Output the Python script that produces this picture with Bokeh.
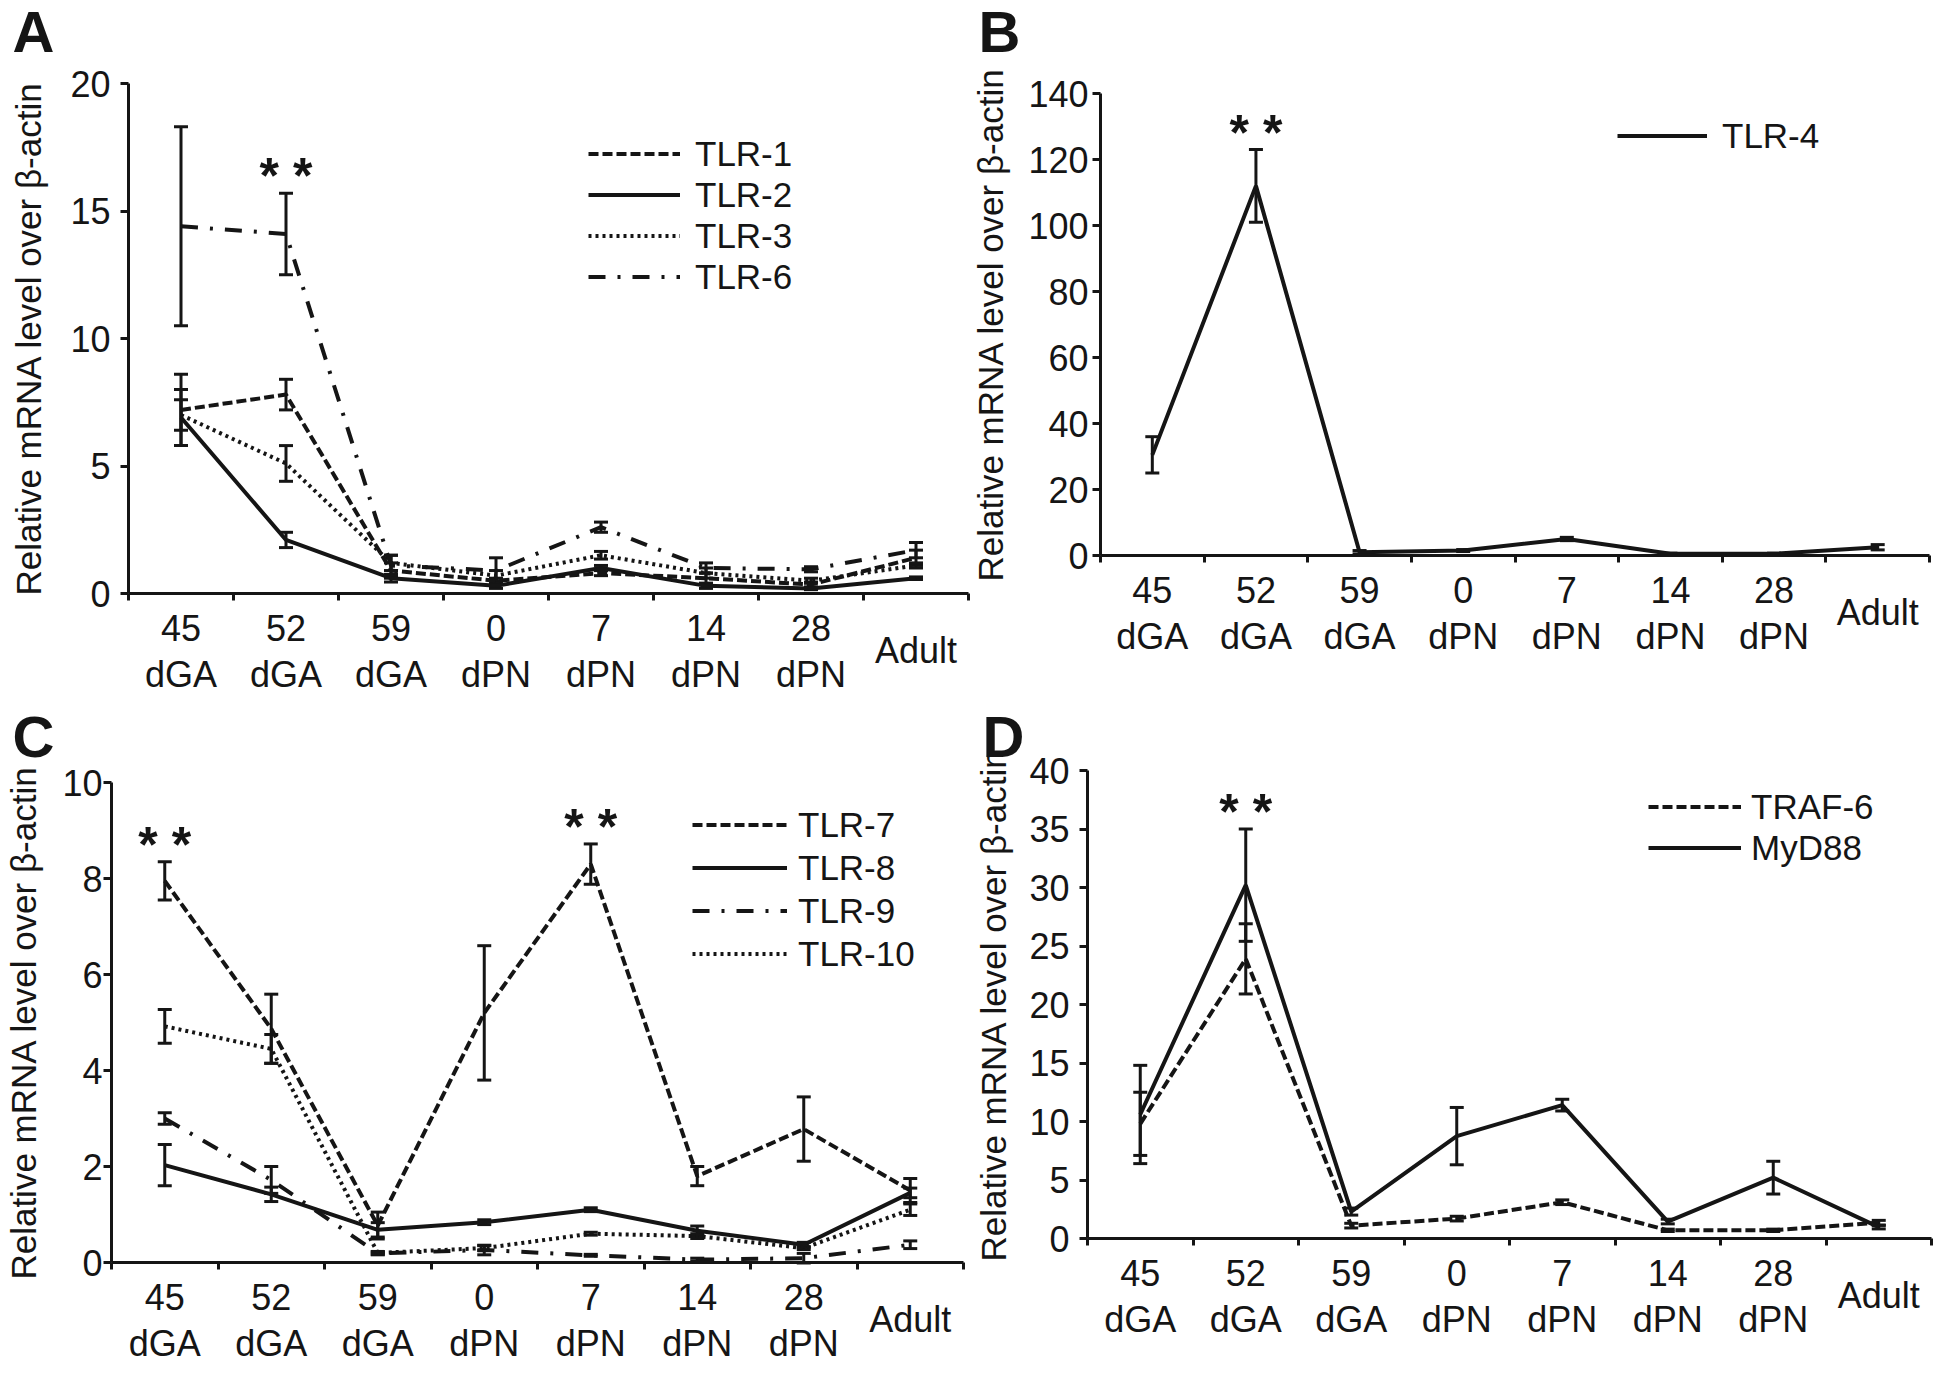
from bokeh.plotting import figure
from bokeh.models import (Range1d, FixedTicker, LinearAxis, Whisker, TeeHead,
                          ColumnDataSource, Label, Legend, LegendItem)
from bokeh.layouts import column, row
from bokeh.embed import file_html
from bokeh.resources import INLINE

# time points (x axis)
stages = ["45 dGA", "52 dGA", "59 dGA", "0 dPN", "7 dPN", "14 dPN", "28 dPN", "Adult"]

# panel A
tlr1 = [7.2, 7.8, 0.9, 0.5, 0.8, 0.6, 0.35, 1.4]
tlr1_err = [1.4, 0.6, 0.3, 0.1, 0.1, 0.2, 0.1, 0.3]
tlr2 = [6.9, 2.1, 0.6, 0.3, 1.0, 0.3, 0.2, 0.6]
tlr2_err = [1.1, 0.3, 0.15, 0.1, 0.1, 0.1, 0.05, 0.05]
tlr3 = [7.0, 5.1, 1.2, 0.7, 1.5, 0.8, 0.5, 1.1]
tlr3_err = [0.6, 0.7, 0.3, 0.2, 0.15, 0.2, 0.1, 0.1]
tlr6 = [14.4, 14.1, 1.1, 0.9, 2.6, 1.0, 0.95, 1.7]
tlr6_err = [3.9, 1.6, 0.4, 0.5, 0.2, 0.2, 0.1, 0.3]

# panel B
tlr4 = [30.5, 112.0, 1.0, 1.5, 5.0, 0.5, 0.5, 2.5]
tlr4_err = [5.5, 11.0, 0.5, 0.3, 0.5, 0.2, 0.2, 0.8]

# panel C
tlr7 = [7.95, 4.87, 0.77, 5.2, 8.3, 1.8, 2.78, 1.5]
tlr7_err = [0.4, 0.72, 0.28, 1.4, 0.42, 0.2, 0.67, 0.25]
tlr8 = [2.03, 1.42, 0.68, 0.84, 1.1, 0.66, 0.37, 1.45]
tlr8_err = [0.43, 0.15, 0.15, 0.05, 0.04, 0.1, 0.05, 0.1]
tlr9 = [3.0, 1.72, 0.19, 0.26, 0.15, 0.06, 0.09, 0.37]
tlr9_err = [0.12, 0.28, 0.03, 0.1, 0.02, 0.03, 0.1, 0.08]
tlr10 = [4.92, 4.45, 0.2, 0.3, 0.6, 0.55, 0.3, 1.1]
tlr10_err = [0.35, 0.3, 0.03, 0.05, 0.03, 0.05, 0.03, 0.12]

# panel D
traf6 = [9.8, 23.9, 1.1, 1.7, 3.1, 0.7, 0.7, 1.35]
traf6_err = [2.7, 3.0, 0.2, 0.2, 0.2, 0.1, 0.1, 0.2]
myd88 = [10.6, 30.2, 2.3, 8.75, 11.4, 1.45, 5.2, 0.97]
myd88_err = [4.2, 4.8, 0.3, 2.45, 0.5, 0.2, 1.4, 0.15]

INK = "#151515"
FONT = "Liberation Sans"
DASH = {"dashed": "10 4", "solid": "solid", "dotted": "3 4", "dashdot": "17 12 3 12"}
W, H = 970, 698

xs = [i + 0.5 for i in range(len(stages))]


def make_panel(letter, ymax, ystep, series, stars, g):
    # the frame fills the whole figure; axes sit at x=0 / y=0 with bounds
    n = len(stages)
    ppx = (g["fr"] - g["fl"]) / n
    ppy = (g["fb"] - g["ft"]) / ymax
    p = figure(width=W, height=H,
               x_range=Range1d(-g["fl"] / ppx, n + (W - g["fr"]) / ppx),
               y_range=Range1d(-(H - g["fb"]) / ppy, ymax + g["ft"] / ppy),
               output_backend="svg", toolbar_location=None,
               min_border=0, min_border_left=0, min_border_right=0,
               min_border_top=0, min_border_bottom=0)
    p.outline_line_color = None
    p.grid.grid_line_color = None

    # y axis
    ya = p.yaxis[0]
    ya.fixed_location = 0
    ya.bounds = (0, ymax)
    ya.ticker = FixedTicker(ticks=list(range(0, ymax + 1, ystep)))
    ya.axis_label = "Relative mRNA level over β-actin"
    ya.axis_label_text_font_style = "normal"
    ya.axis_label_text_font_size = "35px"
    ya.axis_label_text_font = FONT
    ya.axis_label_text_color = INK
    ya.axis_label_standoff = g["lstand"]
    ya.major_label_standoff = g["tstand"]
    ya.major_label_text_font_size = "36px"
    ya.major_tick_in = 0
    ya.major_tick_out = 8
    ya.minor_tick_line_color = None

    # x axis: numbers row, "Adult" in the middle, units row
    num, unit, single = {}, {}, {}
    for x, s in zip(xs, stages):
        parts = s.split()
        if len(parts) == 2:
            num[x], unit[x] = parts
        else:
            single[x] = s
    xa = p.xaxis[0]
    xa.ticker = FixedTicker(ticks=list(num.keys()), minor_ticks=list(range(n + 1)))
    xa.major_label_overrides = num
    xa.major_tick_line_color = None
    xa.minor_tick_in = 0
    xa.minor_tick_out = 7
    xa.major_label_standoff = 14

    ax_mid = LinearAxis(ticker=FixedTicker(ticks=list(single.keys())),
                        major_label_overrides=single, major_label_standoff=36)
    ax_unit = LinearAxis(ticker=FixedTicker(ticks=list(unit.keys())),
                         major_label_overrides=unit, major_label_standoff=60)
    for ax in (ax_mid, ax_unit):
        ax.axis_line_color = None
        ax.major_tick_line_color = None
        ax.minor_tick_line_color = None
        p.add_layout(ax, "below")

    for ax in (xa, ax_mid, ax_unit):
        ax.fixed_location = 0
        ax.bounds = (0, n)
        ax.major_tick_in = 0
        ax.major_tick_out = 0
        ax.major_label_text_font_size = "36px"

    for ax in (xa, ya, ax_mid, ax_unit):
        ax.axis_line_width = 3
        ax.major_tick_line_width = 3
        ax.minor_tick_line_width = 3
        ax.major_label_text_font = FONT
        ax.major_label_text_color = INK
    xa.axis_line_color = INK
    ya.axis_line_color = INK
    ya.major_tick_line_color = INK
    xa.minor_tick_line_color = INK

    items = []
    for name, vals, errs, style in series:
        r = p.line(xs, vals, line_width=4, line_color=INK, line_dash=DASH[style])
        src = ColumnDataSource(dict(x=xs,
                                    lo=[v - e for v, e in zip(vals, errs)],
                                    hi=[v + e for v, e in zip(vals, errs)]))
        w = Whisker(base="x", lower="lo", upper="hi", source=src,
                    dimension="height", line_width=3, line_color=INK,
                    upper_head=TeeHead(size=14, line_width=3, line_color=INK),
                    lower_head=TeeHead(size=14, line_width=3, line_color=INK))
        p.add_layout(w)
        items.append(LegendItem(label=name, renderers=[r]))

    leg = Legend(items=items, location=g["legend"], glyph_width=g["gw"],
                 glyph_height=g["rowh"], label_height=g["rowh"],
                 label_standoff=g["ls"], spacing=0, padding=0, margin=0,
                 border_line_color=None, background_fill_alpha=0,
                 label_text_font_size="35px", label_text_font=FONT,
                 label_text_color=INK)
    p.add_layout(leg)

    # significance marks above the highest error bar
    for i in stars:
        top = max(v[i] + e[i] for _, v, e, _ in series)
        p.add_layout(Label(x=xs[i], y=top, text="* *", text_align="center",
                           text_baseline="alphabetic", y_offset=17,
                           text_font_size="50px", text_font=FONT,
                           text_font_style="bold", text_color=INK))

    # panel letter (top of the text box inside the figure)
    lx, ly = g["letter"]
    p.add_layout(Label(x=lx, y=H - ly, x_units="screen", y_units="screen",
                       text=letter, text_baseline="top",
                       text_font_size="58px", text_font=FONT,
                       text_font_style="bold", text_color=INK))
    return p


pa = make_panel("A", 20, 5,
                [("TLR-1", tlr1, tlr1_err, "dashed"),
                 ("TLR-2", tlr2, tlr2_err, "solid"),
                 ("TLR-3", tlr3, tlr3_err, "dotted"),
                 ("TLR-6", tlr6, tlr6_err, "dashdot")],
                [1],
                dict(fl=128, fr=968, ft=83, fb=593, tstand=10, lstand=19,
                     legend=(588, 401), gw=92, rowh=41, ls=15, letter=(12, -2)))

pb = make_panel("B", 140, 20,
                [("TLR-4", tlr4, tlr4_err, "solid")],
                [1],
                dict(fl=130, fr=959, ft=93, fb=555, tstand=4, lstand=15,
                     legend=(647, 542), gw=90, rowh=41, ls=15, letter=(8, -2)))

pc = make_panel("C", 10, 2,
                [("TLR-7", tlr7, tlr7_err, "dashed"),
                 ("TLR-8", tlr8, tlr8_err, "solid"),
                 ("TLR-9", tlr9, tlr9_err, "dashdot"),
                 ("TLR-10", tlr10, tlr10_err, "dotted")],
                [0, 4],
                dict(fl=111, fr=963, ft=84, fb=564, tstand=1, lstand=16,
                     legend=(692, 421), gw=95, rowh=43, ls=11, letter=(12, 5)))

pd_ = make_panel("D", 40, 5,
                 [("TRAF-6", traf6, traf6_err, "dashed"),
                  ("MyD88", myd88, myd88_err, "solid")],
                 [1],
                 dict(fl=117, fr=961, ft=72, fb=540, tstand=10, lstand=13,
                      legend=(678, 528), gw=93, rowh=41, ls=10, letter=(12, 5)))

layout = column(row(pa, pb), row(pc, pd_))

open("out.html", "w").write(file_html(layout, INLINE))
